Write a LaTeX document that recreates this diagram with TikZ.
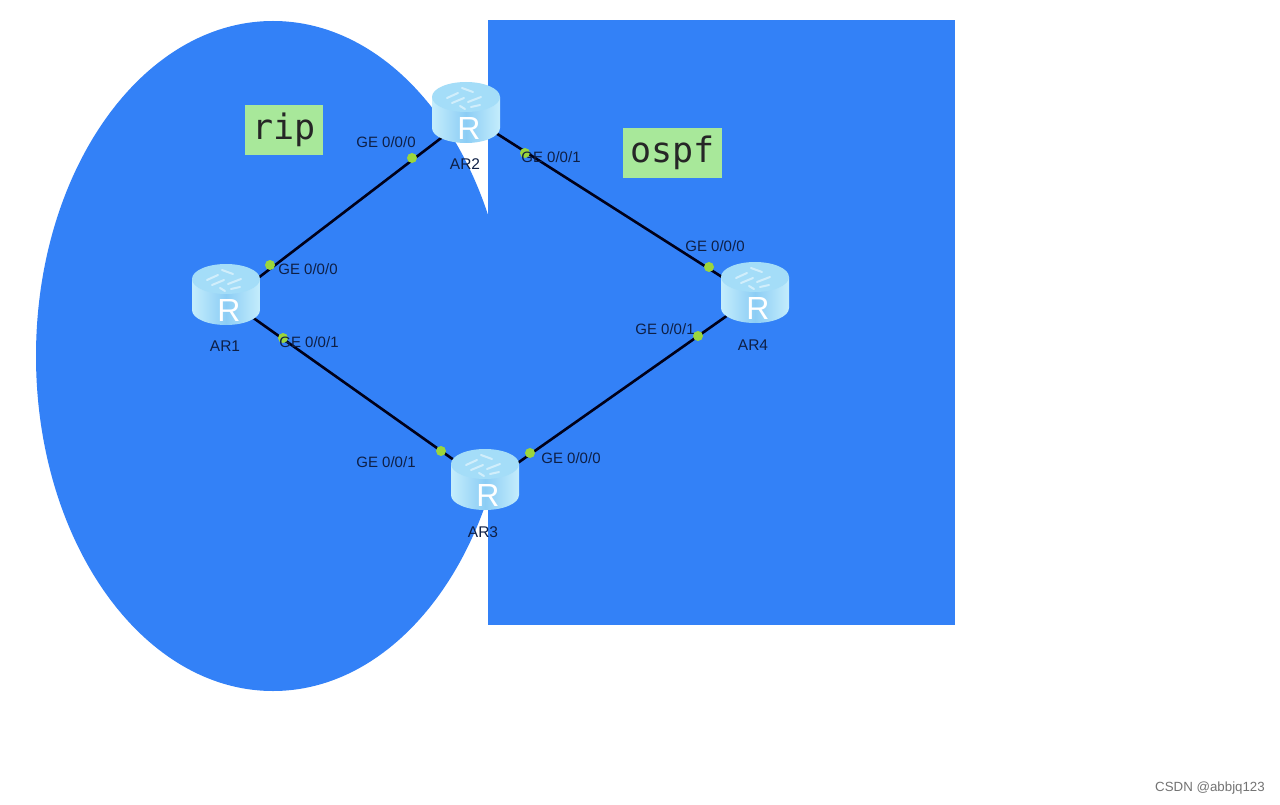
\documentclass[tikz,border=0pt]{standalone}
\usepackage{fontspec}
\setmainfont{Liberation Sans}
\newfontfamily\codefont{DejaVu Sans Mono}
\definecolor{zoneblue}{HTML}{3381F7}
\definecolor{tagreen}{HTML}{A8E89A}
\definecolor{portgreen}{HTML}{9BD63C}
\definecolor{labelink}{HTML}{0E1F45}
\definecolor{rtrtop}{HTML}{A4DDF8}
\definecolor{rtredge}{HTML}{C4EDFC}
\definecolor{rtrmid}{HTML}{8CCDF5}
\tikzset{
  zone/.style={fill=zoneblue,draw=none},
  tagbox/.style={fill=tagreen,draw=none,inner sep=0pt,anchor=center,font=\codefont\fontsize{35}{35}\selectfont,text=black!85},
  link/.style={draw=black!90!blue,line width=2.6pt},
  port/.style={circle,fill=portgreen,draw=none,minimum size=10pt,inner sep=0pt},
  iflabel/.style={font=\fontsize{15}{15}\selectfont,text=labelink,inner sep=0pt},
  rtrname/.style={font=\fontsize{15.5}{15}\selectfont,text=labelink,inner sep=0pt},
  rtrbox/.style={rectangle,draw=none,minimum width=68pt,minimum height=60pt,inner sep=0pt},
  router/.pic={
    \shade[left color=rtredge,right color=rtredge,middle color=rtrmid]
      (-34,-15) -- (-34,16) arc[start angle=180,end angle=360,x radius=34pt,y radius=15pt] -- (34,-15) -- cycle;
    \fill[rtrtop] (0,-15) ellipse[x radius=34pt,y radius=15pt];
    \draw[white,opacity=.5,line width=2pt,line cap=round]
      (-19,-14) -- (-8,-19) (-14,-9) -- (-2,-14) (-4,-24) -- (7,-20)
      (2,-10) -- (15,-15) (5,-5) -- (14,-7) (-6,-6) -- (-1,-3);
    \node[white,inner sep=0pt,font=\fontsize{32}{32}\selectfont] at (3,16) {R};
  }
}
\begin{document}
\begin{tikzpicture}[x=1pt,y=-1pt]
\useasboundingbox (0,0) rectangle (1280,805);
\fill[white] (0,0) rectangle (1280,805);
\path[zone] (273,356) ellipse[x radius=237pt,y radius=335pt];
\path[zone] (488,20) rectangle (955,625);
\node[tagbox,minimum width=78pt,minimum height=50pt] (rip) at (284,130) {rip};
\node[tagbox,minimum width=99pt,minimum height=50pt] (ospf) at (672.5,153) {ospf};
% hidden link ends beneath the routers
\coordinate (e12) at (232,298);
\coordinate (e21) at (466,119);
\coordinate (e13) at (228,300);
\coordinate (e31) at (485,482);
\coordinate (e24) at (466,114);
\coordinate (e42) at (755,298);
\coordinate (e34) at (485,486);
\coordinate (e43) at (755,296);
\node[rtrbox] (ar1) at (226,294) {};
\node[rtrbox] (ar2) at (466,112) {};
\node[rtrbox] (ar3) at (485,479) {};
\node[rtrbox] (ar4) at (755,292) {};
\draw[link] (e12) -- (e21);
\draw[link] (e13) -- (e31);
\draw[link] (e24) -- (e42);
\draw[link] (e34) -- (e43);
\pic at (ar1) {router};
\pic at (ar2) {router};
\pic at (ar3) {router};
\pic at (ar4) {router};
\node[port] (p1a) at (270,265) {};
\node[port] (p1b) at (283,338) {};
\node[port] (p2a) at (412,158) {};
\node[port] (p2b) at (525,153) {};
\node[port] (p3a) at (441,451) {};
\node[port] (p3b) at (530,453) {};
\node[port] (p4a) at (709,267) {};
\node[port] (p4b) at (698,336) {};
\node[iflabel] (l1a) at (308,269) {GE 0/0/0};
\node[iflabel] (l1b) at (309,342) {GE 0/0/1};
\node[iflabel] (l2a) at (386,142) {GE 0/0/0};
\node[iflabel] (l2b) at (551,157) {GE 0/0/1};
\node[iflabel] (l3a) at (386,462) {GE 0/0/1};
\node[iflabel] (l3b) at (571,458) {GE 0/0/0};
\node[iflabel] (l4a) at (715,246) {GE 0/0/0};
\node[iflabel] (l4b) at (665,329) {GE 0/0/1};
\node[rtrname] (n1) at (225,346) {AR1};
\node[rtrname] (n2) at (465,164) {AR2};
\node[rtrname] (n3) at (483,532) {AR3};
\node[rtrname] (n4) at (753,345) {AR4};
\node[font=\fontsize{13.3}{13}\selectfont,text=black!55,inner sep=0pt] (wm) at (1210,788) {CSDN @abbjq123};
\end{tikzpicture}
\end{document}
